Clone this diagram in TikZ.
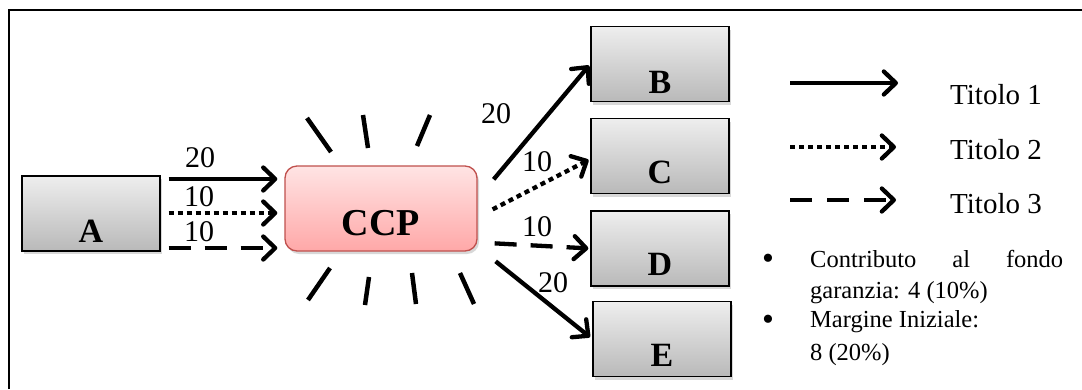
\documentclass[tikz,border=0pt]{standalone}
\usepackage{fontspec}
\setmainfont{Liberation Serif}
\usetikzlibrary{arrows.meta,shadows,calc}
\definecolor{ccpborder}{RGB}{192,80,77}
\definecolor{ccptop}{RGB}{255,228,228}
\definecolor{ccpbot}{RGB}{255,168,168}
\definecolor{graytop}{RGB}{238,238,238}
\definecolor{graybot}{RGB}{185,185,185}
\begin{document}
\begin{tikzpicture}[x=1pt,y=-1pt,
  graybox/.style={draw=black, line width=1.3pt, top color=graytop, bottom color=graybot,
    minimum width=138pt, minimum height=75pt, inner sep=0pt,
    drop shadow={opacity=0.3, shadow xshift=2pt, shadow yshift=-3pt}},
  ccpbox/.style={draw=ccpborder, line width=1.3pt, rounded corners=12pt, top color=ccptop, bottom color=ccpbot,
    minimum width=192pt, minimum height=85pt, inner sep=0pt,
    drop shadow={opacity=0.3, shadow xshift=2pt, shadow yshift=-3pt}},
  boxlabel/.style={font=\bfseries\fontsize{34}{36}\selectfont, inner sep=0pt},
  numlabel/.style={font=\fontsize{30}{32}\selectfont, inner sep=0pt},
  legtext/.style={font=\fontsize{29}{31}\selectfont, inner sep=0pt, anchor=west},
  bultext/.style={font=\fontsize{24.5}{28}\selectfont, inner sep=0pt, anchor=base west},
  bulmark/.style={font=\fontsize{34}{36}\selectfont, inner sep=0pt},
  arr/.style={line width=4.3pt, -{Straight Barb[length=12pt,width=23pt,round]}},
  solidarr/.style={arr},
  dotarr/.style={arr, dash pattern=on 5pt off 4pt},
  dasharr/.style={arr, dash pattern=on 22pt off 14pt},
  ray/.style={line width=4.5pt}
]
\useasboundingbox (0,0) rectangle (1082,389);
\fill[white] (0,0) rectangle (1082,389);
\draw[line width=2.5pt] (9,389) -- (9,10) -- (1082,10);

% boxes
\node[graybox] (A) at (91,213.5) {};
\node[ccpbox] (CCP) at (381,208.5) {};
\node[graybox] (B) at (660,64) {};
\node[graybox] (C) at (660,156) {};
\node[graybox] (D) at (660,248.5) {};
\node[graybox] (E) at (662,339) {};

\node[boxlabel] (Alab) at (91,231) {A};
\node[font=\bfseries\fontsize{38}{40}\selectfont, inner sep=0pt] (CCPlab) at (381,223) {CCP};
\node[boxlabel] (Blab) at (660,82) {B};
\node[boxlabel] (Clab) at (660,172) {C};
\node[boxlabel] (Dlab) at (660,264) {D};
\node[boxlabel] (Elab) at (662,355) {E};

% rays
\draw[ray] (307,118) -- (331,152);
\draw[ray] (363,115) -- (368,148);
\draw[ray] (430,115) -- (417,146);
\draw[ray] (330,268) -- (308,300);
\draw[ray] (369,277) -- (365,305);
\draw[ray] (412,273) -- (416,304);
\draw[ray] (460,273) -- (474,304);

% labels
\node[numlabel] (l1) at (200,158) {20};
\node[numlabel] (l2) at (199,197) {10};
\node[numlabel] (l3) at (199,232) {10};
\node[numlabel] (l4) at (496,114) {20};
\node[numlabel] (l5) at (537,162) {10};
\node[numlabel] (l6) at (537,227) {10};
\node[numlabel] (l7) at (553,283) {20};

% A -> CCP
\draw[solidarr, shorten <=8pt, shorten >=7pt] (A.east |- 0,179) -- (CCP.west |- 0,179);
\draw[dotarr, shorten <=8pt, shorten >=7pt] (A.east |- 0,213) -- (CCP.west |- 0,213);
\draw[dasharr, shorten <=8pt, shorten >=7pt] (A.east |- 0,248) -- (CCP.west |- 0,248);

% CCP -> B..E
\coordinate (oB) at ($(CCP.north east)+(16,14)$);
\coordinate (oC) at ($(CCP.north east)+(15,44)$);
\coordinate (oD) at ($(CCP.north east)+(17,78)$);
\coordinate (oE) at ($(CCP.north east)+(18,96)$);
\draw[solidarr, shorten >=2pt] (oB) -- (B.west);
\draw[dotarr, shorten >=2pt] (oC) -- ([yshift=-3pt]C.west);
\draw[dasharr, shorten >=2pt] (oD) -- (D.west);
\draw[solidarr, shorten >=3pt] (oE) -- (E.west);

% legend
\coordinate (k1s) at (790,83); \coordinate (k1e) at (898,83);
\coordinate (k2s) at (790,147); \coordinate (k2e) at (896,147);
\coordinate (k3s) at (790,200); \coordinate (k3e) at (896,200);
\draw[solidarr] (k1s) -- (k1e);
\draw[dotarr] (k2s) -- (k2e);
\draw[dash pattern=on 22pt off 15pt, arr] (k3s) -- (k3e);
\node[legtext] (t1) at (950,95) {Titolo 1};
\node[legtext] (t2) at (950,150) {Titolo 2};
\node[legtext] (t3) at (950,204) {Titolo 3};

% bullets
\node[bulmark] (b1) at (768,262) {\textbullet};
\node[bultext] (x1) at (810,267) {\hbox to 253pt{Contributo\hfill al\hfill fondo}};
\node[bultext] (x2) at (810,298) {garanzia: 4 (10\%)};
\node[bulmark] (b2) at (768,323) {\textbullet};
\node[bultext] (x3) at (810,327) {Margine Iniziale:};
\node[bultext] (x4) at (810,360) {8 (20\%)};
\end{tikzpicture}
\end{document}
